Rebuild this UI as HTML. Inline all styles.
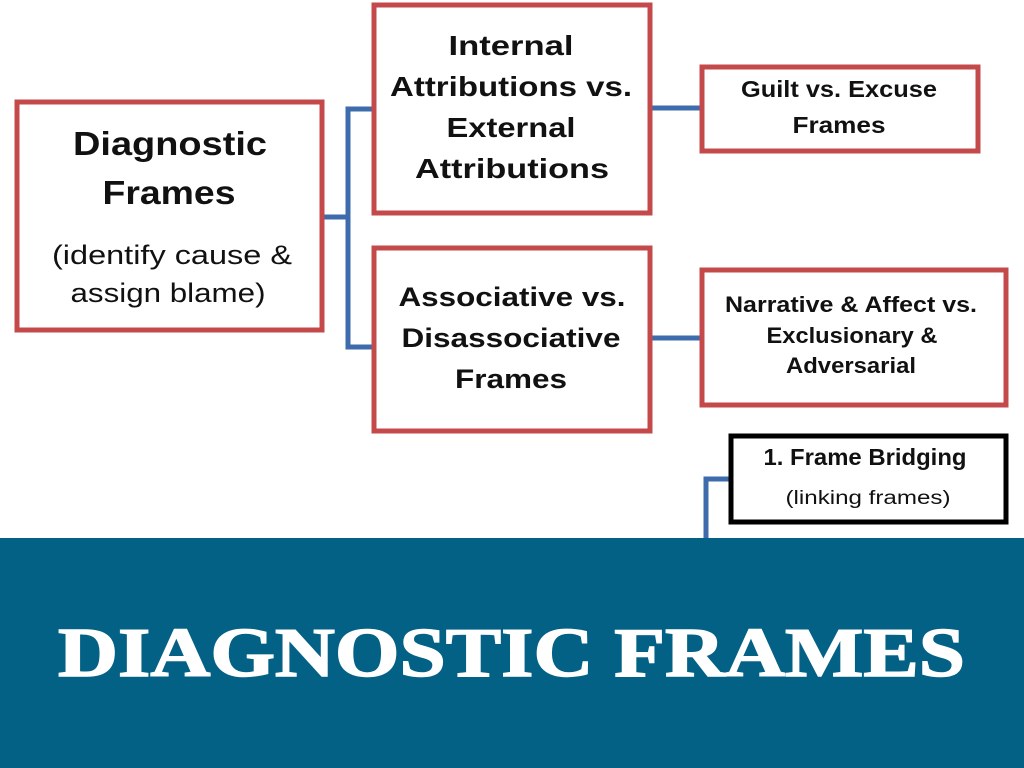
<!DOCTYPE html>
<html><head><meta charset="utf-8"><style>
html,body{margin:0;padding:0;background:#fff;width:1024px;height:768px;overflow:hidden}
svg{display:block}
text{font-family:"Liberation Sans",sans-serif;fill:#111}
.b{font-weight:bold}
</style></head><body>
<svg width="1024" height="768" viewBox="0 0 1024 768">
<g fill="none" stroke="#3d6bab" stroke-width="5">
<path d="M323 217 H348 M373 109 H348 V347 H373"/>
<path d="M652 108 H701"/>
<path d="M652 338 H701"/>
<path d="M706 540 V479 H730"/>
</g>
<g fill="#fff" stroke="#c4494a" stroke-width="5">
<rect x="17" y="102" width="305" height="228"/>
<rect x="374" y="5" width="276" height="208"/>
<rect x="374" y="248" width="276" height="183"/>
<rect x="702" y="67" width="276" height="84"/>
<rect x="702" y="270" width="304" height="135"/>
</g>
<rect x="731" y="436" width="275" height="86" fill="#fff" stroke="#000" stroke-width="5"/>
<g text-anchor="middle">
<text class="b" x="170" y="155" font-size="33" textLength="194" lengthAdjust="spacingAndGlyphs">Diagnostic</text>
<text class="b" x="169" y="204" font-size="33" textLength="133" lengthAdjust="spacingAndGlyphs">Frames</text>
<text x="172" y="264" font-size="27" textLength="240" lengthAdjust="spacingAndGlyphs">(identify cause &amp;</text>
<text x="168" y="302" font-size="27" textLength="195" lengthAdjust="spacingAndGlyphs">assign blame)</text>

<text class="b" x="511" y="55" font-size="28" textLength="125" lengthAdjust="spacingAndGlyphs">Internal</text>
<text class="b" x="511" y="96" font-size="28" textLength="242" lengthAdjust="spacingAndGlyphs">Attributions vs.</text>
<text class="b" x="511" y="137" font-size="28" textLength="129" lengthAdjust="spacingAndGlyphs">External</text>
<text class="b" x="512" y="178" font-size="28" textLength="194" lengthAdjust="spacingAndGlyphs">Attributions</text>

<text class="b" x="512" y="306" font-size="27" textLength="227" lengthAdjust="spacingAndGlyphs">Associative vs.</text>
<text class="b" x="511" y="347" font-size="27" textLength="219" lengthAdjust="spacingAndGlyphs">Disassociative</text>
<text class="b" x="511" y="388" font-size="27" textLength="112" lengthAdjust="spacingAndGlyphs">Frames</text>

<text class="b" x="839" y="97" font-size="23" textLength="196" lengthAdjust="spacingAndGlyphs">Guilt vs. Excuse</text>
<text class="b" x="839" y="133" font-size="23" textLength="93" lengthAdjust="spacingAndGlyphs">Frames</text>

<text class="b" x="851" y="312" font-size="22" textLength="252" lengthAdjust="spacingAndGlyphs">Narrative &amp; Affect vs.</text>
<text class="b" x="852" y="343" font-size="22" textLength="171" lengthAdjust="spacingAndGlyphs">Exclusionary &amp;</text>
<text class="b" x="851" y="373" font-size="22" textLength="130" lengthAdjust="spacingAndGlyphs">Adversarial</text>

<text x="865" y="465" font-size="23" textLength="203" lengthAdjust="spacingAndGlyphs" style="font-weight:600">1. Frame Bridging</text>
<text x="868" y="504" font-size="19" textLength="165" lengthAdjust="spacingAndGlyphs">(linking frames)</text>
</g>
<rect x="0" y="538" width="1024" height="230" fill="#036186"/>
<text x="58" y="676" font-size="70" textLength="907" lengthAdjust="spacingAndGlyphs" style="font-family:'Liberation Serif',serif;font-weight:bold;fill:#fff;stroke:#fff;stroke-width:1.5">DIAGNOSTIC FRAMES</text>
</svg>
</body></html>
